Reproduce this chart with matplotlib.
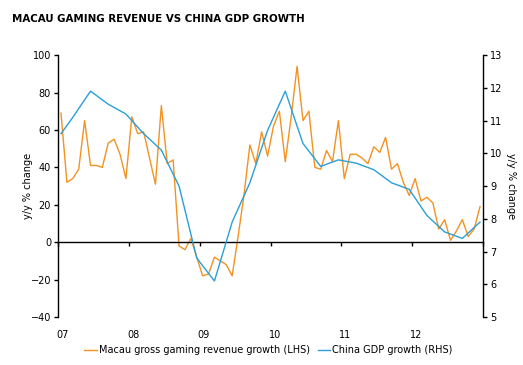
import matplotlib
matplotlib.use("Agg")
import matplotlib.pyplot as plt
import numpy as np

plt.rcParams['font.family'] = 'DejaVu Sans'
plt.rcParams['font.size'] = 7

# Macau gross gaming revenue growth, y/y %, monthly Jan 2007 - Dec 2012
macau_2007 = [69, 32, 34, 39, 65, 41, 41, 40, 53, 55, 47, 34]
macau_2008 = [67, 58, 59, 45, 31, 73, 42, 44, -2, -4, 2, -8]
macau_2009 = [-18, -17, -8, -10, -12, -18, 3, 25, 52, 42, 59, 46]
macau_2010 = [62, 70, 43, 67, 94, 65, 70, 40, 39, 49, 43, 65]
macau_2011 = [34, 47, 47, 45, 42, 51, 48, 56, 39, 42, 32, 25]
macau_2012 = [34, 22, 24, 21, 7, 12, 1, 6, 12, 3, 7, 19]
macau = macau_2007 + macau_2008 + macau_2009 + macau_2010 + macau_2011 + macau_2012

# China GDP growth, y/y %, quarterly (month index of the reading)
gdp_month = [0, 2, 5, 8, 11, 14, 17, 20, 23, 26, 29, 32, 35, 38, 41, 44, 47,
             50, 53, 56, 59, 62, 65, 68, 71]
gdp = [10.6, 11.1, 11.9, 11.5, 11.2, 10.6, 10.1, 9.0, 6.8, 6.1, 7.9, 9.1, 10.7,
       11.9, 10.3, 9.6, 9.8, 9.7, 9.5, 9.1, 8.9, 8.1, 7.6, 7.4, 7.9]

year_labels = ['07', '08', '09', '10', '11', '12']

orange = '#F39222'
blue = '#2A9FD8'

fig = plt.figure(figsize=(5.23, 3.65), dpi=100)
ax = fig.add_axes([0.111, 0.1315, 0.8125, 0.7175])
ax2 = ax.twinx()

months = np.arange(len(macau)) + 0.5
l1, = ax.plot(months, macau, color=orange, lw=1.0,
              label='Macau gross gaming revenue growth (LHS)')
l2, = ax2.plot(np.array(gdp_month) + 0.5, gdp, color=blue, lw=1.0,
               label='China GDP growth (RHS)')

ax.set_xlim(0, 72)
ax.set_ylim(-40, 100)
ax2.set_ylim(5, 13)
ax.set_yticks(range(-40, 101, 20))
ax2.set_yticks(range(5, 14))

for a in (ax, ax2):
    a.spines['top'].set_visible(False)
    a.spines['bottom'].set_visible(False)
ax.spines['right'].set_visible(False)
ax2.spines['left'].set_visible(False)
ax.spines['bottom'].set_visible(True)
ax.spines['bottom'].set_position(('data', 0))
ax.spines['bottom'].set_linewidth(1.0)
ax.spines['left'].set_linewidth(1.0)
ax2.spines['right'].set_linewidth(1.0)

ax.set_xticks(range(0, 73, 12))
ax.tick_params(axis='x', direction='out', length=3, width=1, labelbottom=False)
ax.tick_params(axis='y', direction='out', length=3, width=1, pad=2)
ax2.tick_params(axis='y', direction='out', length=3, width=1, pad=2)

sec = ax.secondary_xaxis('bottom')
sec.spines['bottom'].set_visible(False)
sec.set_xticks(np.arange(0, 72, 12) + 0.7, year_labels)
sec.tick_params(length=0, pad=9)

ax.set_ylabel('y/y % change', labelpad=-2)
ax2.set_ylabel('y/y % change', rotation=270, labelpad=10)

fig.text(0.023, 0.947, 'MACAU GAMING REVENUE VS CHINA GDP GROWTH',
         fontsize=7.4, fontweight='bold', va='center', ha='left')

fig.legend(handles=[l1, l2], loc='center', bbox_to_anchor=(0.513, 0.04),
           ncol=2, frameon=False, handlelength=1.3, handletextpad=0.2,
           columnspacing=0.8, fontsize=7)

fig.savefig('out.png', dpi=100)
